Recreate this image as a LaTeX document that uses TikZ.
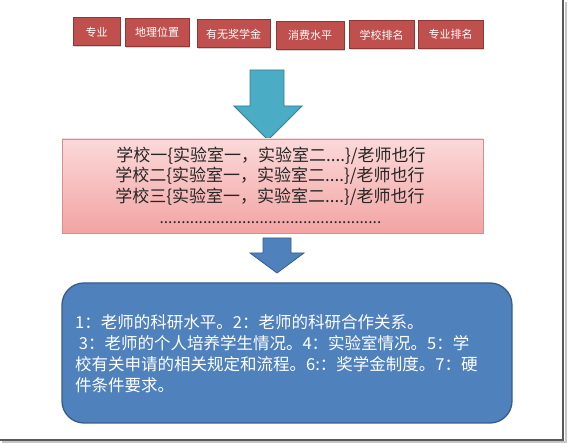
\documentclass[tikz,border=0pt]{standalone}
\usepackage{fontspec}
\setmainfont{Noto Sans CJK SC}
\usetikzlibrary{shadows}
\definecolor{redbox}{HTML}{C0504D}
\definecolor{redline}{HTML}{8C3836}
\definecolor{pinktop}{HTML}{FBD9D9}
\definecolor{pinkbot}{HTML}{F3A3A3}
\definecolor{pinkline}{HTML}{D98E8C}
\definecolor{tealfill}{HTML}{4BACC6}
\definecolor{tealline}{HTML}{357D91}
\definecolor{bluefill}{HTML}{4F81BD}
\definecolor{blueline}{HTML}{385D8A}
\definecolor{textgray}{HTML}{262626}
\tikzset{
  tag/.style={draw=redline, line width=1pt, fill=redbox, text=white, font=\fontsize{11}{13}\selectfont,
    minimum height=28pt, inner sep=0pt, drop shadow={shadow xshift=1.2pt, shadow yshift=-1.2pt, opacity=0.35}},
  pinkline/.style={anchor=center, inner sep=0pt, text=textgray, font=\fontsize{17}{20}\selectfont},
  blueline/.style={anchor=west, inner sep=0pt, text=white, font=\fontsize{16.5}{20}\selectfont},
}
\begin{document}
\begin{tikzpicture}[x=1pt,y={(0,-1pt)}]
\useasboundingbox (0,0) rectangle (568,443);
\fill[white] (0,0) rectangle (568,443);
% frame shadow
\draw[gray!45, line width=2pt] (565.5,2) -- (565.5,442.5) -- (2,442.5);
\draw[black!65, line width=1.6pt] (563,0) -- (563,440) -- (0,440);

% top tags
\node[tag, minimum width=47pt] (t1) at (96.5,32) {专业};
\node[tag, minimum width=64pt] (t2) at (157,32.5) {地理位置};
\node[tag, minimum width=73pt] (t3) at (233.5,34) {有无奖学金};
\node[tag, minimum width=68pt] (t4) at (310,35.5) {消费水平};
\node[tag, minimum width=65pt] (t5) at (381.5,35) {学校排名};
\node[tag, minimum width=65pt] (t6) at (450.5,34.5) {专业排名};

% teal arrow
\draw[draw=tealline, fill=tealfill, line width=0.8pt]
  (250,70) -- (284,70) -- (284,106) -- (302,106) -- (268,140) -- (234,106) -- (250,106) -- cycle;

% pink box
\node[draw=pinkline, line width=0.8pt, top color=pinktop, bottom color=pinkbot,
  minimum width=421pt, minimum height=94pt, inner sep=0pt,
  drop shadow={shadow xshift=1.2pt, shadow yshift=-1.2pt, opacity=0.25}] (pink) at (272.5,186) {};
\node[pinkline] (p1) at (271,155.5) {学校一\{实验室一，实验室二....\}/老师也行};
\node[pinkline] (p2) at (270,176) {学校二\{实验室一，实验室二....\}/老师也行};
\node[pinkline] (p3) at (270,196.5) {学校三\{实验室一，实验室二....\}/老师也行};
\node[inner sep=0pt, text=textgray, font=\fontsize{15.5}{19}\selectfont] (p4) at (272.5,223)
  {\makebox[226pt]{\leaders\hbox to 4.35pt{\hss.\hss}\hfill}};

% blue arrow
\draw[draw=blueline, fill=bluefill, line width=0.8pt]
  (263,238) -- (291,238) -- (291,253) -- (304,253) -- (277,273) -- (250,253) -- (263,253) -- cycle;

% blue box
\node[draw=blueline, line width=1.3pt, fill=bluefill, rounded corners=22pt,
  minimum width=450pt, minimum height=140pt, inner sep=0pt] (blue) at (287,353) {};
\node[blueline] (b1) at (75,322) {1：老师的科研水平。2：老师的科研合作关系。};
\node[blueline] (b2) at (75,343) {\ 3：老师的个人培养学生情况。4：实验室情况。5：学};
\node[blueline] (b3) at (75,364) {校有关申请的相关规定和流程。6:：奖学金制度。7：硬};
\node[blueline] (b4) at (75,385) {件条件要求。};
\end{tikzpicture}
\end{document}
